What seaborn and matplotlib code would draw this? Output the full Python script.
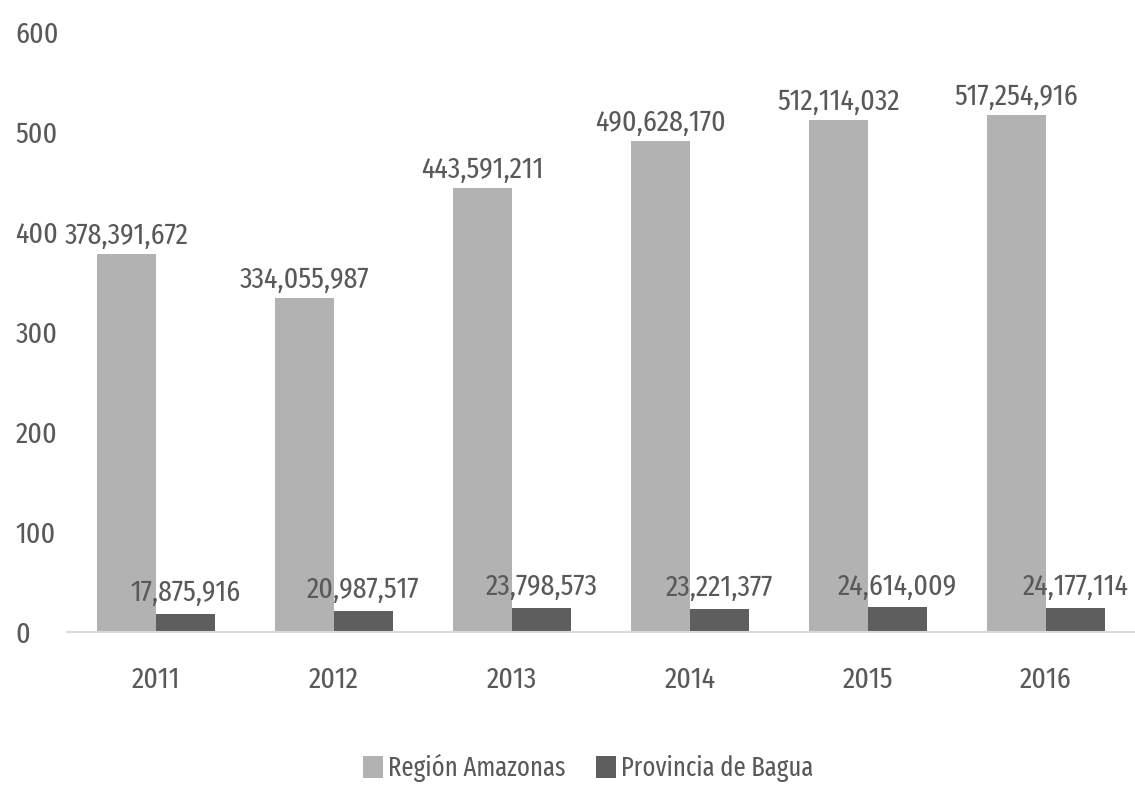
import matplotlib
matplotlib.use("Agg")
import matplotlib.pyplot as plt
import seaborn as sns
import pandas as pd
from matplotlib import font_manager

years = ["2011", "2012", "2013", "2014", "2015", "2016"]
amazonas = [378391672, 334055987, 443591211, 490628170, 512114032, 517254916]
bagua = [17875916, 20987517, 23798573, 23221377, 24614009, 24177114]
series_names = ["Región Amazonas", "Provincia de Bagua"]
yticks = [0, 100, 200, 300, 400, 500, 600]

sns.set_theme(style="white")
names = {f.name for f in font_manager.fontManager.ttflist}
prefs = ["Fira Sans Extra Condensed", "Roboto Condensed", "Fira Sans Condensed",
         "IBM Plex Sans Condensed", "DejaVu Sans"]
fam = [n for n in prefs if n in names]
plt.rcParams["font.family"] = fam
text_color = "#595959"

df = pd.DataFrame({
    "year": years * 2,
    "value": [v / 1e6 for v in amazonas] + [v / 1e6 for v in bagua],
    "serie": [series_names[0]] * len(years) + [series_names[1]] * len(years),
})

fig = plt.figure(figsize=(11.35, 7.9), dpi=100)
renderer = fig.canvas.get_renderer()


def fit_size(text, target_px):
    probe = fig.text(0, 0, text, fontsize=20)
    w = probe.get_window_extent(renderer).width
    probe.remove()
    return 20 * target_px / w


fs = fit_size(f"{amazonas[0]:,}", 124)
fs_leg = fit_size(series_names[0], 177)
px = fs_leg * 100 / 72  # pixels per legend font unit

ax = fig.add_axes([67 / 1135, 1 - 632 / 790, 1 - 67 / 1135, 600 / 790])
sns.barplot(data=df, x="year", y="value", hue="serie",
            palette=["#b2b2b2", "#5e5e5e"], width=0.66, saturation=1,
            errorbar=None, linewidth=0, ax=ax)

for cont, vals, pad in zip(ax.containers, [amazonas, bagua], [3, 5]):
    ax.bar_label(cont, labels=[f"{v:,}" for v in vals], padding=pad,
                 fontsize=fs, color=text_color)

ax.set_ylim(0, 600)
ax.set_xlim(-0.5, len(years) - 0.5)
ax.set_yticks(yticks)
ax.set_yticklabels([str(t) for t in yticks], ha="left")
ax.tick_params(axis="y", length=0, pad=37, labelsize=fs, labelcolor=text_color)
ax.tick_params(axis="x", length=0, pad=24, labelsize=fs, labelcolor=text_color)
ax.set_xlabel("")
ax.set_ylabel("")
for s in ["top", "right", "left"]:
    ax.spines[s].set_visible(False)
ax.spines["bottom"].set_color("#d9d9d9")
ax.spines["bottom"].set_linewidth(1.5)

ax.legend(loc="center", bbox_to_anchor=(588 / 1135, 1 - 768 / 790),
          bbox_transform=fig.transFigure, ncol=2, frameon=False,
          fontsize=fs_leg, labelcolor=text_color, handlelength=20 / px,
          handleheight=23 / px, handletextpad=5 / px, columnspacing=31 / px,
          borderpad=0, borderaxespad=0)

fig.savefig("out.png", dpi=100)
